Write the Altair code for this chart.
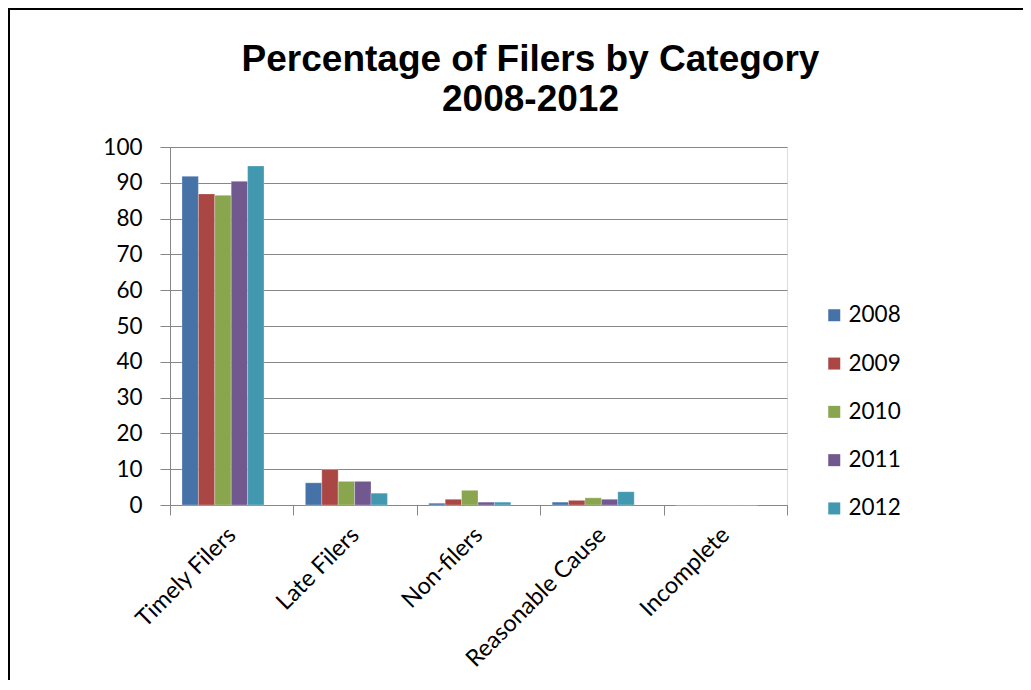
import altair as alt
import pandas as pd

categories = ["Timely Filers", "Late Filers", "Non-filers", "Reasonable Cause", "Incomplete"]
years = ["2008", "2009", "2010", "2011", "2012"]
values_2008 = [91.8, 6.2, 0.5, 0.8, 0.0]
values_2009 = [86.9, 9.9, 1.6, 1.3, 0.0]
values_2010 = [86.5, 6.6, 4.1, 2.0, 0.0]
values_2011 = [90.4, 6.6, 0.8, 1.6, 0.0]
values_2012 = [94.7, 3.3, 0.8, 3.7, 0.0]
colors = ["#4572A7", "#AA4643", "#89A54E", "#71588F", "#4198AF"]

series = [values_2008, values_2009, values_2010, values_2011, values_2012]
rows = []
for y, vals in zip(years, series):
    for c, v in zip(categories, vals):
        rows.append({"category": c, "year": y, "value": v})
df = pd.DataFrame(rows)

grey = "#878787"
font = "Lato"

bars = alt.Chart(df).mark_bar(stroke="white", strokeOpacity=0.35, strokeWidth=0.8).encode(
    x=alt.X("category:N", sort=categories, title=None,
            scale=alt.Scale(paddingInner=0, paddingOuter=0),
            axis=alt.Axis(labelAngle=-45, labelFont=font, labelFontSize=23.5, labelColor="black",
                          labelAlign="right", labelBaseline="middle", labelLimit=0,
                          tickBand="extent", tickSize=10, tickColor=grey, domainColor=grey,
                          labelPadding=16, grid=False)),
    xOffset=alt.XOffset("year:N",
                        scale=alt.Scale(domain=years + ["_gap"], paddingInner=0,
                                        paddingOuter=0.76, align=0.48)),
    y=alt.Y("value:Q", title=None,
            scale=alt.Scale(domain=[0, 100], nice=False),
            axis=alt.Axis(values=list(range(0, 101, 10)), labelFont=font, labelFontSize=22.5,
                          labelColor="black", tickSize=10, tickColor=grey, domainColor=grey,
                          gridColor=grey, gridWidth=1, labelPadding=18)),
    color=alt.Color("year:N", sort=years, scale=alt.Scale(domain=years, range=colors),
                    legend=alt.Legend(title=None, orient="none", legendX=653, legendY=157,
                                      symbolType="square", symbolSize=144, symbolStrokeWidth=0,
                                      labelFont=font, labelFontSize=22.5, labelColor="black",
                                      rowPadding=25.3, labelOffset=3)),
)

frame = alt.Chart(pd.DataFrame({"a": [0]})).mark_rect(
    fillOpacity=0, stroke="black", strokeWidth=2
).encode(
    x=alt.value(-161), x2=alt.value(2000), y=alt.value(-138), y2=alt.value(2000)
)

chart = alt.layer(frame, bars).properties(
    width=617,
    height=358,
    title=alt.Title(["Percentage of Filers by Category", "2008-2012"],
                    font="Liberation Sans", fontSize=37, fontWeight="bold",
                    lineHeight=40, color="black", anchor="middle", frame="group",
                    dx=52, offset=-111),
    autosize=alt.AutoSizeParams(type="none"),
    padding={"left": 162, "top": 139, "right": 236, "bottom": 175},
).configure_view(stroke=None).configure(background="white")

chart.save("out.html", embed_options={"renderer": "svg", "actions": False})
